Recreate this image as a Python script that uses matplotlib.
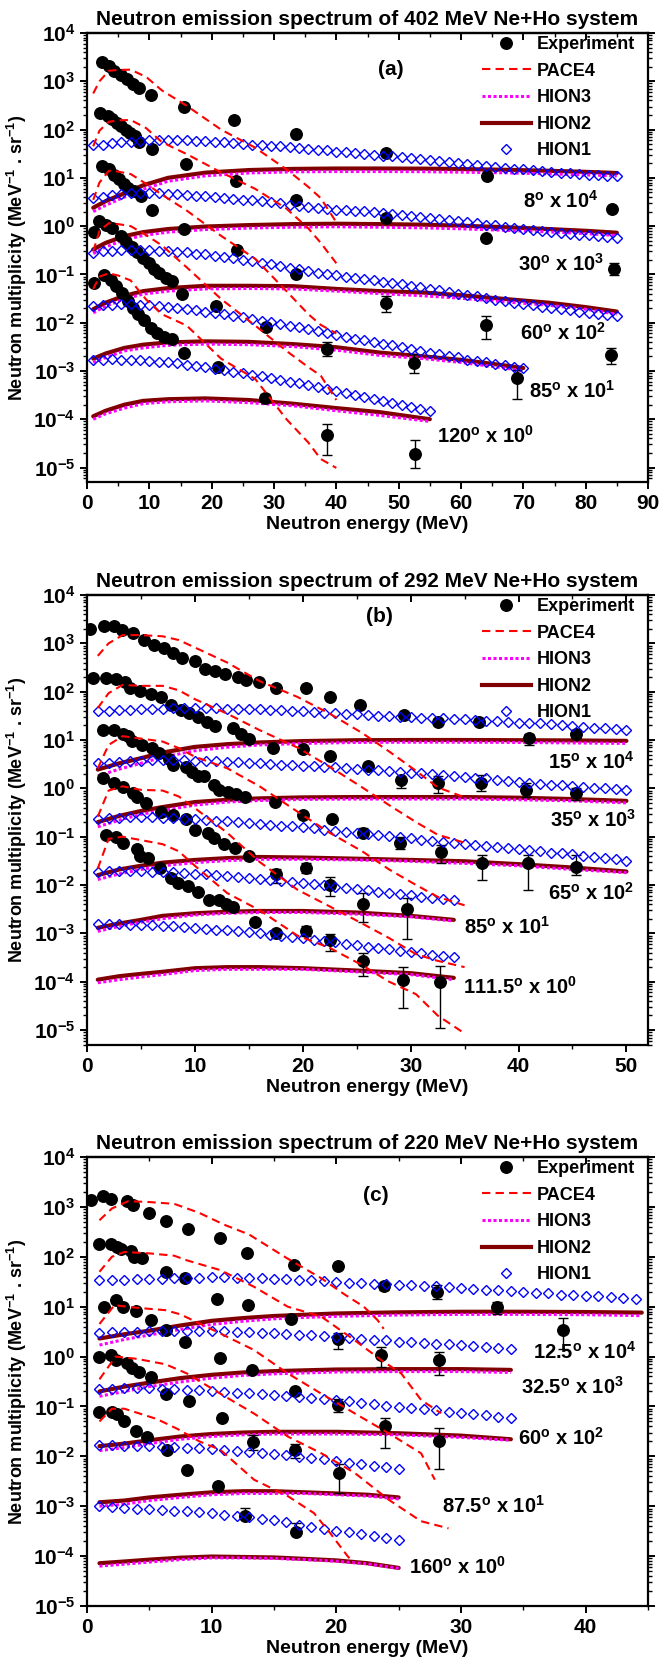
import numpy as np
import matplotlib
matplotlib.use('Agg')
import matplotlib.pyplot as plt
from matplotlib.lines import Line2D
from matplotlib.ticker import LogLocator, MultipleLocator, NullFormatter

# ---------------- panel (a): 402 MeV Ne+Ho ----------------
a_angles = ['8', '30', '60', '85', '120']
a_powers = [4, 3, 2, 1, 0]

a_exp_x = [
    [2.4, 3.5, 4.4, 5.4, 6.4, 7.4, 8.4, 10.2, 15.6, 23.6, 33.5, 48.0, 64.2, 84.3],
    [2.15, 3.4, 4.0, 4.8, 5.5, 6.2, 6.9, 7.7, 8.4, 10.4, 15.9, 23.9, 33.5, 48.0, 64.0, 84.5],
    [2.4, 3.5, 4.3, 5.1, 5.9, 6.6, 7.5, 8.6, 10.4, 15.6, 24.0, 33.5, 48.0, 64.0, 84.0],
    [1.1, 2.0, 3.1, 4.0, 5.4, 6.3, 7.2, 8.1, 9.0, 9.9, 10.8, 11.6, 12.6, 13.7, 15.3, 20.7, 28.7, 38.5, 52.5, 69.0],
    [1.2, 2.7, 3.8, 4.6, 5.6, 6.5, 7.3, 8.2, 9.1, 10.2, 11.3, 12.4, 13.7, 15.6, 21.0, 28.5, 38.5, 52.7],
]
a_exp_y = [
    [2500, 2100, 1600, 1350, 1100, 880, 740, 510, 290, 158, 80, 33, 10.7, 2.3],
    [218, 190, 162, 138, 120, 100, 83, 72, 56, 40, 19, 8.5, 3.5, 1.5, 0.58, 0.13],
    [17.8, 15, 11.7, 9.3, 7.6, 6.2, 5.3, 4.2, 2.2, 0.87, 0.32, 0.1, 0.026, 0.0088, 0.0021],
    [0.74, 1.26, 1.07, 0.91, 0.63, 0.48, 0.37, 0.29, 0.22, 0.17, 0.13, 0.105, 0.085, 0.073, 0.039,
     0.022, 0.0083, 0.0028, 0.00145, 0.0007],
    [0.066, 0.097, 0.076, 0.058, 0.041, 0.028, 0.02, 0.015, 0.0115, 0.0077, 0.0061, 0.0051, 0.0046,
     0.0024, 0.0012, 0.00028, 4.8e-5, 1.9e-5],
]
# error bars: [energy, low, high]
a_err = [
    [],
    [[84.5, 0.095, 0.175]],
    [[48.0, 0.017, 0.035], [64.0, 0.0045, 0.014], [84.0, 0.0014, 0.003]],
    [[28.7, 0.0072, 0.0095], [38.5, 0.002, 0.004], [52.5, 0.0009, 0.0022], [69.0, 0.00026, 0.00107]],
    [[28.5, 0.00024, 0.00033], [38.5, 1.8e-5, 8e-5], [52.7, 1e-5, 3.8e-5]],
]

a_pace_x = [1, 2, 3.5, 5, 7, 9.5, 12, 16, 21.5, 27, 32, 35.5, 37.5, 40]
a_pace_y = [
    [560, 1000, 1650, 1720, 1740, 1230, 650, 310, 100, 42, 15, 6.5, 3.8, 1.2],
    [45, 95, 145, 155, 158, 107, 55, 31, 13, 5.9, 2.3, 0.9, 0.45, 0.17],
    [3.5, 8, 14, 13.5, 12, 7.5, 4.5, 2.1, 0.63, 0.21, 0.045, 0.015, 0.009, 0.006],
    [0.3, 0.8, 1.15, 1.1, 1.0, 0.65, 0.4, 0.14, 0.031, 0.0087, 0.0026, 0.0012, 0.0008, 0.00025],
    [0.05, 0.09, 0.105, 0.095, 0.075, 0.03, 0.015, 0.0087, 0.0018, 0.00068, 0.0001, 3.3e-5, 1.5e-5, 9.8e-6],
]

a_h2_x = [
    [1, 3, 6, 9, 13, 19, 26, 33, 40, 47, 54, 60, 67, 74, 80, 85],
    [1, 3, 6, 9, 13, 19, 26, 33, 40, 47, 54, 60, 67, 74, 80, 85],
    [1, 3, 6, 9, 13, 19, 26, 33, 40, 47, 54, 60, 67, 74, 80, 85],
    [1, 3, 6, 9, 13, 19, 26, 33, 40, 47, 54, 60, 67, 70],
    [1, 3, 6, 9, 13, 19, 26, 33, 40, 47, 55],
]
a_h2_y = [
    [2.4, 3.3, 4.8, 7, 10, 12.8, 14.5, 15.3, 15.6, 15.6, 15.5, 15.2, 14.7, 14, 13.3, 12.6],
    [0.33, 0.45, 0.62, 0.75, 0.87, 0.98, 1.05, 1.1, 1.12, 1.1, 1.07, 1.02, 0.95, 0.87, 0.8, 0.73],
    [0.019, 0.026, 0.036, 0.045, 0.052, 0.058, 0.058, 0.057, 0.05, 0.045, 0.042, 0.037, 0.031, 0.026, 0.021, 0.017],
    [0.0018, 0.0023, 0.003, 0.0035, 0.0039, 0.0041, 0.004, 0.0036, 0.0031, 0.0024, 0.002, 0.0017, 0.0013, 0.00115],
    [0.000115, 0.00015, 0.0002, 0.00024, 0.00026, 0.00027, 0.00025, 0.00021, 0.00017, 0.00014, 0.0001],
]
a_h3_y = [
    [2.0, 2.7, 4.0, 5.8, 8.5, 11, 12.6, 13.3, 13.5, 13.5, 13.4, 13.1, 12.7, 12.1, 11.5, 11.0],
    [0.27, 0.37, 0.52, 0.64, 0.75, 0.85, 0.91, 0.95, 0.97, 0.95, 0.92, 0.88, 0.82, 0.76, 0.7, 0.64],
    [0.016, 0.022, 0.031, 0.039, 0.045, 0.05, 0.051, 0.05, 0.045, 0.04, 0.036, 0.032, 0.027, 0.023, 0.019, 0.015],
    [0.0015, 0.0019, 0.0026, 0.003, 0.0034, 0.0036, 0.0035, 0.0032, 0.0027, 0.0021, 0.0018, 0.0015, 0.00115, 0.001],
    [0.0001, 0.00013, 0.00017, 0.00021, 0.00023, 0.00024, 0.00022, 0.00019, 0.00015, 0.00012, 0.00009],
]

a_h1_e = np.arange(1.0, 85.1, 1.5)  # HION1 energy grid
a_h1_y = [
    [47, 49, 52, 54, 56, 58, 60, 61, 61, 61, 60, 59, 57, 56, 55, 53, 51, 49, 48, 46,
     45, 43, 41, 40, 38, 37, 35, 34, 32, 31, 30, 29, 28, 26.5, 25.5, 24.5, 23.5, 22.5, 21.5, 20.5,
     19.5, 18.6, 17.8, 17, 16.3, 15.6, 15, 14.4, 13.8, 13.3, 12.8, 12.4, 12, 11.7, 11.4, 11.1, 10.8],
    [3.8, 4.1, 4.4, 4.6, 4.8, 4.9, 4.9, 4.8, 4.7, 4.6, 4.5, 4.3, 4.2, 4.0, 3.9, 3.7, 3.55, 3.4, 3.25, 3.1,
     2.95, 2.8, 2.65, 2.5, 2.4, 2.3, 2.2, 2.15, 2.1, 2.05, 1.95, 1.87, 1.8, 1.72, 1.64, 1.56, 1.48, 1.41, 1.34, 1.27,
     1.2, 1.14, 1.08, 1.03, 0.98, 0.93, 0.88, 0.84, 0.8, 0.76, 0.73, 0.7, 0.67, 0.64, 0.62, 0.6, 0.58],
    [0.28, 0.30, 0.31, 0.32, 0.32, 0.32, 0.32, 0.31, 0.30, 0.295, 0.285, 0.27, 0.26, 0.245, 0.23, 0.215, 0.2,
     0.19, 0.175, 0.162, 0.15, 0.138, 0.127, 0.117, 0.108, 0.1, 0.095, 0.09, 0.085, 0.081, 0.076, 0.071,
     0.066, 0.062, 0.058, 0.054, 0.05, 0.047, 0.043, 0.04, 0.037, 0.035, 0.032, 0.03, 0.028, 0.026, 0.024,
     0.023, 0.021, 0.02, 0.019, 0.018, 0.017, 0.016, 0.015, 0.0145, 0.014],
    [0.022, 0.023, 0.0235, 0.024, 0.024, 0.0235, 0.023, 0.022, 0.021, 0.02, 0.019, 0.018, 0.017, 0.016,
     0.015, 0.014, 0.013, 0.012, 0.011, 0.0102, 0.0094, 0.0087, 0.008, 0.0073, 0.0067, 0.0061, 0.0056,
     0.0051, 0.0047, 0.0043, 0.004, 0.0037, 0.0034, 0.0031, 0.0029, 0.0026, 0.0024, 0.0022, 0.002, 0.0019,
     0.0017, 0.0016, 0.0015, 0.0014, 0.0013, 0.00122, 0.00115],
    [0.0017, 0.00172, 0.00173, 0.00172, 0.0017, 0.00165, 0.0016, 0.00155, 0.0015, 0.00143, 0.00136,
     0.00128, 0.0012, 0.00112, 0.00104, 0.00097, 0.0009, 0.00083, 0.00077, 0.00071, 0.00065, 0.0006,
     0.00055, 0.0005, 0.00046, 0.00042, 0.00038, 0.00035, 0.00032, 0.00029, 0.00026, 0.00024, 0.00022,
     0.0002, 0.00018, 0.00016, 0.000145],
]

# ---------------- panel (b): 292 MeV Ne+Ho ----------------
b_angles = ['15', '35', '65', '85', '111.5']
b_powers = [4, 3, 2, 1, 0]

b_exp_x = [
    [0.3, 1.6, 2.5, 3.2, 4.3, 5.3, 6.2, 7.1, 8.0, 8.8, 10.0, 10.9, 11.9, 12.8, 14.0, 14.7, 15.9, 17.5,
     20.3, 22.5, 25.3, 29.4, 32.5, 36.3, 41.0, 45.3],
    [0.6, 1.8, 2.7, 3.5, 4.0, 4.9, 5.9, 6.9, 7.8, 8.7, 9.5, 10.3, 11.1, 11.9, 13.5, 14.3, 15.0, 17.2,
     20.0, 22.5, 26.0, 29.1, 32.5, 36.5, 40.7, 45.3],
    [1.5, 2.5, 3.3, 3.8, 4.2, 5.1, 6.0, 6.7, 7.6, 8.0, 9.2, 9.7, 10.3, 10.8, 11.8, 12.2, 13.1, 13.8,
     14.6, 17.4, 20.0, 22.7, 25.6, 29.0, 32.8, 36.6, 40.9, 45.3],
    [1.5, 2.5, 3.3, 4.3, 4.6, 5.5, 6.9, 8.0, 9.2, 10.0, 11.2, 11.8, 12.7, 13.7, 15.0, 17.5, 20.3, 22.5,
     25.6, 29.7],
    [1.8, 2.7, 3.3, 4.6, 4.9, 5.7, 6.8, 7.8, 8.4, 9.4, 10.3, 11.3, 12.2, 12.9, 13.5, 15.6, 17.5, 20.3,
     22.5, 25.6, 29.3, 32.7],
]
b_exp_y = [
    [1950, 2290, 2290, 1900, 1620, 1180, 930, 820, 620, 500, 430, 300, 270, 230, 205, 175, 155, 120,
     117, 79, 52, 33, 23.5, 23.5, 10.8, 13.2],
    [195, 195, 180, 155, 118, 105, 89, 76, 52, 41, 37, 30, 24, 19.6, 17.5, 13.3, 10.5, 6.9, 6.5, 4.6,
     2.9, 1.5, 1.27, 1.3, 0.93, 0.8],
    [16.3, 16.3, 13.3, 12, 9.5, 7.9, 6.9, 5.5, 4.1, 3.0, 2.8, 2.15, 1.8, 1.8, 1.2, 0.93, 0.83, 0.78,
     0.65, 0.52, 0.28, 0.23, 0.12, 0.074, 0.049, 0.028, 0.028, 0.024],
    [1.6, 1.26, 1.07, 0.8, 0.65, 0.49, 0.33, 0.28, 0.23, 0.14, 0.12, 0.093, 0.07, 0.058, 0.04, 0.017,
     0.023, 0.01, 0.0041, 0.0032],
    [0.11, 0.1, 0.073, 0.055, 0.039, 0.036, 0.022, 0.014, 0.011, 0.0095, 0.0073, 0.005, 0.0048, 0.0041,
     0.0035, 0.0017, 0.001, 0.00114, 0.00073, 0.00027, 0.000107, 0.0001],
]
b_err = [
    [[41.0, 7.9, 13.5], [45.3, 11, 16]],
    [[29.1, 1.0, 1.7], [32.5, 0.8, 1.8], [36.5, 0.87, 1.9], [40.7, 0.66, 1.27], [45.3, 0.57, 1.0]],
    [[25.6, 0.1, 0.15], [29.0, 0.055, 0.1], [32.8, 0.028, 0.067], [36.6, 0.013, 0.042],
     [40.9, 0.0077, 0.042], [45.3, 0.016, 0.042]],
    [[17.5, 0.011, 0.021], [20.3, 0.018, 0.028], [22.5, 0.006, 0.0144], [25.6, 0.0017, 0.0069],
     [29.7, 0.00075, 0.0053]],
    [[17.5, 0.0008, 0.0012], [20.3, 0.00088, 0.0014], [22.5, 0.00043, 0.00097], [25.6, 0.00013, 0.0004],
     [29.3, 2.9e-5, 0.0002], [32.7, 1.1e-5, 0.00021]],
]

b_pace_x = [1, 2, 3.3, 5, 7, 8.5, 10, 13, 16, 19.5, 22.5, 25.5, 28, 30.5, 32.5, 35]
b_pace_y = [
    [550, 1000, 1480, 1480, 1400, 1170, 820, 400, 165, 78, 35, 14, 5.8, 2.3, 1.05, 0.65],
    [46, 93, 138, 132, 132, 107, 70, 35, 16, 7, 2.8, 1.05, 0.45, 0.2, 0.11, 0.075],
    [2.6, 7.9, 12, 10.7, 9.3, 6.8, 4.5, 2.6, 1.1, 0.33, 0.12, 0.05, 0.021, 0.01, 0.0057, 0.0038],
    [0.26, 0.9, 1.1, 0.93, 0.9, 0.68, 0.39, 0.12, 0.03, 0.008, 0.0036, 0.0016, 0.0008, 0.00037, 0.00027, 0.0002],
    [0.022, 0.09, 0.1, 0.085, 0.07, 0.05, 0.025, 0.0068, 0.003, 0.0009, 0.0005, 0.00022, 0.0001, 5.5e-5, 2e-5, 8.5e-6],
]

b_h2_x = [
    [1, 3, 5, 7, 10, 13, 16, 20, 25, 30, 35, 40, 45, 50],
    [1, 3, 5, 7, 10, 13, 16, 20, 25, 30, 35, 40, 45, 50],
    [1, 3, 5, 7, 10, 13, 16, 20, 25, 30, 35, 40, 45, 50],
    [1, 3, 5, 7, 10, 13, 16, 20, 25, 30, 34],
    [1, 3, 5, 7, 10, 13, 16, 20, 25, 30, 34],
]
b_h2_y = [
    [2.45, 3.3, 4.2, 5.5, 7.2, 8.2, 8.9, 9.5, 9.9, 10, 10, 9.9, 9.8, 9.6],
    [0.2, 0.27, 0.34, 0.41, 0.52, 0.58, 0.62, 0.65, 0.66, 0.66, 0.66, 0.64, 0.6, 0.55],
    [0.016, 0.021, 0.025, 0.029, 0.033, 0.036, 0.038, 0.037, 0.035, 0.033, 0.031, 0.027, 0.023, 0.019],
    [0.0013, 0.0016, 0.0019, 0.0023, 0.0026, 0.0028, 0.0029, 0.0029, 0.0027, 0.0023, 0.0019],
    [0.00011, 0.00013, 0.000145, 0.00016, 0.00019, 0.0002, 0.0002, 0.00019, 0.00017, 0.00015, 0.00012],
]
b_h3_y = [
    [1.8, 2.5, 3.3, 4.4, 6, 7.1, 7.9, 8.5, 8.9, 9.0, 9.0, 8.9, 8.7, 8.5],
    [0.16, 0.22, 0.29, 0.35, 0.45, 0.52, 0.56, 0.59, 0.6, 0.6, 0.6, 0.58, 0.55, 0.5],
    [0.013, 0.017, 0.021, 0.025, 0.029, 0.032, 0.034, 0.034, 0.033, 0.031, 0.028, 0.025, 0.021, 0.018],
    [0.0011, 0.0014, 0.0017, 0.002, 0.0024, 0.0026, 0.0027, 0.0027, 0.0025, 0.0022, 0.0018],
    [0.000095, 0.00011, 0.000125, 0.00014, 0.00017, 0.00018, 0.00018, 0.00018, 0.00016, 0.00014, 0.00011],
]

b_h1_e = np.arange(1, 51)
b_h1_y = [
    [39, 40, 41, 42, 43, 44, 44.5, 45, 45, 45, 45, 45, 44.5, 44, 43.5, 43, 42, 41, 40, 39,
     38, 37, 36, 35, 34, 33, 32, 31, 30, 29.5, 29, 28.5, 28, 27.5, 27, 26, 25, 24.5, 24, 23,
     22.5, 22, 21, 20.5, 19.5, 19, 18, 17.5, 16.5, 16],
    [3.3, 3.4, 3.5, 3.6, 3.7, 3.8, 3.85, 3.85, 3.8, 3.7, 3.65, 3.6, 3.5, 3.45, 3.4, 3.3, 3.2, 3.1, 3.0, 2.95,
     2.85, 2.8, 2.7, 2.6, 2.5, 2.45, 2.35, 2.3, 2.2, 2.1, 2.05, 1.95, 1.9, 1.8, 1.7, 1.65, 1.6, 1.5, 1.45, 1.35,
     1.3, 1.25, 1.2, 1.15, 1.1, 1.05, 1.02, 1.0, 0.96, 0.93],
    [0.23, 0.24, 0.245, 0.25, 0.25, 0.25, 0.245, 0.24, 0.235, 0.23, 0.225, 0.215, 0.21, 0.2, 0.195,
     0.185, 0.178, 0.17, 0.163, 0.156, 0.148, 0.14, 0.133, 0.127, 0.12, 0.114, 0.108, 0.102, 0.097,
     0.092, 0.087, 0.083, 0.079, 0.075, 0.071, 0.067, 0.064, 0.061, 0.058, 0.055, 0.052, 0.05, 0.047,
     0.045, 0.043, 0.04, 0.038, 0.036, 0.034, 0.032],
    [0.019, 0.0195, 0.0197, 0.0197, 0.0195, 0.019, 0.0187, 0.0183, 0.0178, 0.0173, 0.0167, 0.016,
     0.0154, 0.0148, 0.0142, 0.0135, 0.0128, 0.0122, 0.0116, 0.011, 0.0104, 0.0098, 0.0093, 0.0088,
     0.0083, 0.0078, 0.0073, 0.0069, 0.0065, 0.0061, 0.0057, 0.0054, 0.0051, 0.0048],
    [0.00155, 0.00155, 0.00154, 0.00152, 0.0015, 0.00147, 0.00143, 0.00139, 0.00134, 0.0013, 0.00125,
     0.0012, 0.00115, 0.0011, 0.00105, 0.001, 0.00094, 0.00089, 0.00084, 0.00079, 0.00074, 0.00069,
     0.00065, 0.0006, 0.00057, 0.00053, 0.0005, 0.00047, 0.00044, 0.00041, 0.00039, 0.00036, 0.00034,
     0.00032],
]

# ---------------- panel (c): 220 MeV Ne+Ho ----------------
c_angles = ['12.5', '32.5', '60', '87.5', '160']
c_powers = [4, 3, 2, 1, 0]

c_exp_x = [
    [0.3, 1.25, 1.9, 3.2, 3.7, 5.0, 6.3, 8.1, 10.7, 12.8, 16.6, 20.1, 23.8, 28.1, 32.9, 38.2],
    [0.95, 1.9, 2.4, 2.7, 3.5, 3.8, 4.4, 6.3, 7.9, 10.4, 12.9, 16.4, 20.1, 23.6, 28.2],
    [1.35, 2.3, 2.9, 3.9, 5.1, 6.3, 7.9, 10.7, 13.2, 16.7, 20.1, 23.9, 28.2],
    [1.0, 1.9, 2.3, 3.2, 3.6, 4.2, 5.1, 6.3, 8.2, 10.8, 13.3, 16.7, 20.2],
    [1.0, 2.0, 2.4, 3.0, 3.9, 4.8, 6.4, 8.0, 10.5, 12.7, 16.8],
]
c_exp_y = [
    [1350, 1630, 1470, 1300, 1080, 760, 525, 355, 235, 120, 68, 65, 26, 20, 9.7, 3.4],
    [178, 178, 158, 140, 130, 97, 93, 50, 37, 14.5, 10.7, 5.7, 2.2, 1.07, 0.84],
    [9.7, 13.5, 9.7, 8.3, 5.4, 3.4, 2.0, 0.94, 0.53, 0.2, 0.107, 0.04, 0.02],
    [0.97, 1.07, 0.85, 0.76, 0.59, 0.5, 0.39, 0.18, 0.126, 0.06, 0.019, 0.0135, 0.0046],
    [0.079, 0.079, 0.07, 0.052, 0.032, 0.024, 0.0135, 0.0054, 0.0025, 0.00065, 0.0003],
]
c_err = [
    [[23.8, 22, 30], [28.1, 14.5, 27], [32.9, 7.2, 12.5], [38.2, 1.4, 5.8]],
    [[20.1, 1.45, 2.9], [23.6, 0.63, 1.58], [28.2, 0.43, 1.26]],
    [[20.1, 0.076, 0.14], [23.9, 0.015, 0.058], [28.2, 0.0056, 0.037]],
    [[13.3, 0.0134, 0.027], [16.7, 0.0093, 0.018], [20.2, 0.0018, 0.007]],
    [[8.0, 0.0049, 0.0062], [10.5, 0.0023, 0.0029], [12.7, 0.0006, 0.00093], [16.8, 0.00028, 0.00046]],
]

c_pace_x = [
    [1, 2, 3.3, 5, 7, 9, 11, 13, 16, 18.8, 20.6, 22.2, 23.3, 23.8],
    [1, 2, 3, 5, 7, 8, 10.7, 13.4, 16.1, 18.8, 21.5, 23.6, 25.2, 26.8, 28.4],
    [1, 2.2, 4, 6.3, 7.5, 10.7, 13.4, 16.1, 18.8, 21.5, 24.2, 26.8, 27.9],
    [1, 2.3, 4, 6.3, 8, 10.7, 13.4, 16.1, 18.8, 21.5, 24.2, 26.8, 29],
    [1, 2, 3, 5.6, 7.3, 9, 10.7, 13.4, 16.1, 18.2, 19.5, 20.9, 21.4],
]
c_pace_y = [
    [540, 930, 1300, 1250, 1150, 760, 440, 280, 95, 37, 18, 10, 5.4, 3.6],
    [50, 100, 125, 117, 105, 85, 54, 25, 10, 6.3, 2.1, 0.85, 0.46, 0.135, 0.073],
    [4.5, 10.7, 9.5, 8.5, 7, 2.9, 1.35, 0.46, 0.18, 0.072, 0.029, 0.0115, 0.0034],
    [0.35, 1.0, 0.9, 0.7, 0.46, 0.18, 0.072, 0.025, 0.0115, 0.0046, 0.00135, 0.0005, 0.00036],
    [0.05, 0.09, 0.09, 0.056, 0.035, 0.02, 0.0135, 0.0034, 0.0016, 0.00073, 0.00029, 0.0001, 7.3e-5],
]

c_h2_x = [
    [1, 3, 5, 7.5, 10, 12.5, 15, 17.5, 20, 25, 30, 35, 40, 44.5],
    [1, 3, 5, 7.5, 10, 12.5, 15, 17.5, 20, 25, 30, 34],
    [1, 3, 5, 7.5, 10, 12.5, 15, 17.5, 20, 25, 30, 34],
    [1, 3, 5, 7.5, 10, 12.5, 15, 17.5, 20, 22.5, 25],
    [1, 3, 5, 7.5, 10, 12.5, 15, 17.5, 20, 22.5, 25],
]
c_h2_y = [
    [2.3, 2.8, 3.3, 4.2, 5.2, 5.9, 6.5, 6.9, 7.3, 7.7, 7.9, 7.9, 7.8, 7.6],
    [0.2, 0.25, 0.3, 0.37, 0.43, 0.48, 0.51, 0.53, 0.55, 0.56, 0.56, 0.54],
    [0.016, 0.018, 0.021, 0.025, 0.028, 0.03, 0.031, 0.031, 0.031, 0.029, 0.026, 0.022],
    [0.0012, 0.0013, 0.0015, 0.0017, 0.0019, 0.002, 0.002, 0.0019, 0.0018, 0.0017, 0.0015],
    [7.2e-5, 7.8e-5, 8.5e-5, 9.3e-5, 9.8e-5, 9.6e-5, 9.4e-5, 8.8e-5, 8.2e-5, 7.2e-5, 5.8e-5],
]
c_h3_y = [
    [1.7, 2.2, 2.7, 3.5, 4.4, 5.1, 5.7, 6.1, 6.4, 6.8, 7.0, 7.0, 6.9, 6.6],
    [0.16, 0.2, 0.25, 0.31, 0.37, 0.42, 0.45, 0.47, 0.49, 0.5, 0.5, 0.48],
    [0.013, 0.015, 0.018, 0.022, 0.025, 0.027, 0.028, 0.028, 0.028, 0.027, 0.024, 0.021],
    [0.001, 0.0011, 0.0013, 0.0015, 0.0017, 0.0018, 0.0018, 0.0018, 0.0017, 0.0016, 0.0014],
    [6.3e-5, 6.9e-5, 7.6e-5, 8.5e-5, 9.2e-5, 9.2e-5, 9.0e-5, 8.5e-5, 7.9e-5, 7.0e-5, 5.7e-5],
]

c_h1_e = np.arange(1, 45)
c_h1_y = [
    [34, 34.5, 35, 35.5, 36, 36.5, 37, 37.5, 38, 38.5, 38.5, 38, 37.5, 37, 36, 35.5, 34.5, 33.5, 32.5, 31.5,
     30.5, 30, 29, 28.5, 27.5, 27, 26, 25.5, 24.5, 24, 23, 22, 21.5, 20.5, 20, 19, 18.5, 17.5, 17, 16.5,
     16, 15.5, 15, 14.5],
    [3.0, 3.05, 3.1, 3.15, 3.2, 3.25, 3.3, 3.3, 3.3, 3.25, 3.2, 3.15, 3.1, 3.0, 2.95, 2.85, 2.75, 2.65,
     2.55, 2.45, 2.35, 2.25, 2.15, 2.1, 2.0, 1.95, 1.85, 1.8, 1.75, 1.7, 1.6, 1.55, 1.5, 1.4],
    [0.22, 0.225, 0.23, 0.23, 0.23, 0.225, 0.22, 0.215, 0.21, 0.2, 0.195, 0.19, 0.183, 0.177, 0.17,
     0.164, 0.157, 0.15, 0.142, 0.134, 0.126, 0.118, 0.11, 0.103, 0.098, 0.093, 0.088, 0.083, 0.078,
     0.074, 0.07, 0.066, 0.062, 0.058],
    [0.017, 0.0167, 0.0164, 0.0161, 0.0158, 0.0155, 0.0152, 0.0149, 0.0145, 0.014, 0.0135, 0.0129,
     0.0123, 0.0117, 0.0111, 0.0105, 0.0099, 0.0093, 0.0087, 0.0081, 0.0075, 0.007, 0.0065, 0.006, 0.0055],
    [0.001, 0.00097, 0.00093, 0.00089, 0.00086, 0.00083, 0.00081, 0.00079, 0.00076, 0.00072, 0.00068,
     0.00064, 0.0006, 0.00056, 0.00052, 0.00048, 0.00043, 0.00039, 0.00035, 0.00032, 0.0003, 0.00028,
     0.00025, 0.00023, 0.00021],
]

titles = ['Neutron emission spectrum of 402 MeV Ne+Ho system',
          'Neutron emission spectrum of 292 MeV Ne+Ho system',
          'Neutron emission spectrum of 220 MeV Ne+Ho system']
panel_tags = ['(a)', '(b)', '(c)']

# ---------------- style ----------------
plt.rcParams['font.family'] = ['Liberation Sans', 'DejaVu Sans']
plt.rcParams['font.weight'] = 'bold'
plt.rcParams['axes.labelweight'] = 'bold'
plt.rcParams['mathtext.fontset'] = 'custom'
plt.rcParams['mathtext.rm'] = 'Liberation Sans:bold'
plt.rcParams['mathtext.it'] = 'Liberation Sans:bold'
plt.rcParams['mathtext.bf'] = 'Liberation Sans:bold'
plt.rcParams['mathtext.default'] = 'rm'

C_EXP, C_PACE, C_H3, C_H2, C_H1 = 'black', '#ff0000', '#ff00ff', '#800000', '#0000ff'
DASH = (0, (4, 2.5))
DOTS = (0, (1, 0.8))

W, H = 661, 1668
fig = plt.figure(figsize=(W / 100, H / 100), dpi=100)
left_px, right_px = 87, 648
frames = [(33, 482), (595, 1045), (1157, 1606)]  # top, bottom in pixels
xmax = [90, 52, 45]
ymin = [10 ** -5.3, 10 ** -5.31, 1e-5]

# label positions (energy, log10 value) for the angle tags
tag_pos = [
    [(76, 0.52), (76, -0.79), (76.3, -2.21), (77.9, -3.41), (63.9, -4.34)],
    [(46.7, 0.55), (46.9, -0.66), (46.7, -2.17), (38.9, -2.86), (40.1, -4.1)],
    [(39.9, 0.1), (38.9, -0.6), (38.0, -1.62), (32.6, -2.99), (29.7, -4.22)],
]
letter_pos = [(48.7, 3.24), (27.1, 3.55), (23.2, 3.23)]

panels = [
    (a_angles, a_powers, a_exp_x, a_exp_y, a_err, a_pace_x, a_pace_y, a_h2_x, a_h2_y, a_h3_y, a_h1_e, a_h1_y),
    (b_angles, b_powers, b_exp_x, b_exp_y, b_err, b_pace_x, b_pace_y, b_h2_x, b_h2_y, b_h3_y, b_h1_e, b_h1_y),
    (c_angles, c_powers, c_exp_x, c_exp_y, c_err, c_pace_x, c_pace_y, c_h2_x, c_h2_y, c_h3_y, c_h1_e, c_h1_y),
]

for k, (angles, powers, ex, ey, err, pxs, pys, h2x, h2y, h3y, h1e, h1y) in enumerate(panels):
    top, bot = frames[k]
    ax = fig.add_axes([left_px / W, 1 - bot / H, (right_px - left_px) / W, (bot - top) / H])
    ax.set_yscale('log')

    for i in range(len(angles)):
        ax.plot(h2x[i], h2y[i], color=C_H2, lw=3.0, zorder=2, solid_capstyle='round')
        ax.plot(h2x[i], h3y[i], color=C_H3, lw=2.2, ls=DOTS, zorder=3)
        ax.plot(ex[i], ey[i], 'o', color=C_EXP, ms=8.3, zorder=4)
        xs = np.array(ex[i])
        for e, lo, hi in err[i]:
            j = int(np.argmin(np.abs(xs - e)))
            y = ey[i][j]
            ax.errorbar([xs[j]], [y], yerr=[[y - lo], [hi - y]], fmt='none', ecolor='black',
                        elinewidth=1.0, capsize=3.5, capthick=1.0, zorder=4)
        n = len(h1y[i])
        ax.plot(h1e[:n], h1y[i], 'D', mfc='none', mec=C_H1, mew=1.0, ms=4.6, zorder=5)
        px = pxs[i] if isinstance(pxs[0], list) else pxs
        ax.plot(px, pys[i], color=C_PACE, lw=1.5, ls=DASH, zorder=6)

        tx, ty = tag_pos[k][i]
        ax.text(tx, 10 ** ty, angles[i] + r'$^{\mathrm{o}}$ x 10$^{%d}$' % powers[i],
                ha='center', va='center', fontsize=14.5, fontweight='bold', zorder=7)

    lx, ly = letter_pos[k]
    ax.text(lx, 10 ** ly, panel_tags[k], ha='center', va='center', fontsize=15, fontweight='bold')

    ax.set_xlim(0, xmax[k])
    ax.set_ylim(ymin[k], 1e4)
    ax.xaxis.set_major_locator(MultipleLocator(10))
    ax.xaxis.set_minor_locator(MultipleLocator(5))
    ax.yaxis.set_major_locator(LogLocator(base=10, numticks=20))
    ax.yaxis.set_minor_locator(LogLocator(base=10, subs=np.arange(2, 10), numticks=20))
    ax.yaxis.set_minor_formatter(NullFormatter())
    ax.tick_params(axis='both', which='major', direction='out', length=5, width=1.4, labelsize=15)
    ax.tick_params(axis='both', which='minor', direction='out', length=3, width=1.0)
    ax.tick_params(axis='y', which='both', right=True)
    sec = ax.secondary_xaxis('top')
    sec.xaxis.set_major_locator(MultipleLocator(10))
    sec.xaxis.set_minor_locator(MultipleLocator(5))
    sec.tick_params(which='major', direction='in', length=5, width=1.4, labeltop=False)
    sec.tick_params(which='minor', direction='in', length=3, width=1.0)
    for s in list(ax.spines.values()) + [sec.spines['top']]:
        s.set_linewidth(1.6)
    for lab in ax.get_xticklabels() + ax.get_yticklabels():
        lab.set_fontweight('bold')

    ax.set_title(titles[k], fontsize=15, fontweight='bold', pad=6)
    ax.set_xlabel('Neutron energy (MeV)', fontsize=14, labelpad=2)
    ax.set_ylabel(r'Neutron multiplicity (MeV$^{-1}$ . sr$^{-1}$)', fontsize=13, labelpad=3)

    handles = [
        Line2D([], [], marker='o', color=C_EXP, ls='none', ms=8.3),
        Line2D([], [], color=C_PACE, lw=1.5, ls=DASH),
        Line2D([], [], color=C_H3, lw=2.2, ls=DOTS),
        Line2D([], [], color=C_H2, lw=3.0),
        Line2D([], [], marker='D', mfc='none', mec=C_H1, mew=1.0, ls='none', ms=4.6),
    ]
    ax.legend(handles, ['Experiment', 'PACE4', 'HION3', 'HION2', 'HION1'], loc='upper left',
              bbox_to_anchor=(0.704, 0.993), frameon=False, fontsize=13, handlelength=2.7,
              handletextpad=0.33, labelspacing=0.53, borderpad=0, borderaxespad=0)

fig.savefig('out.png', dpi=100)
